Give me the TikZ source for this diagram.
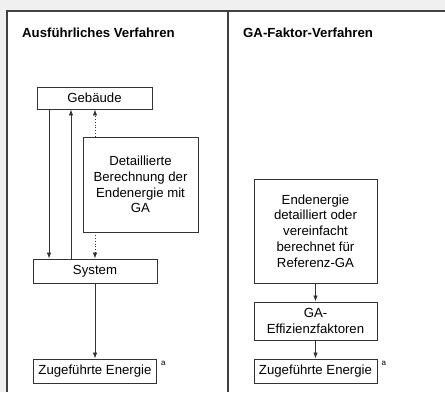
\documentclass[tikz,border=0pt]{standalone}
\usepackage{fontspec}
\setmainfont{Liberation Sans}
\usetikzlibrary{arrows.meta}
\begin{document}
\begin{tikzpicture}[
		x={(1pt,0pt)},
		y={(0pt,-1pt)},
		box/.style={draw=black!80,line width=0.9pt,fill=white,inner sep=0pt,align=center,font=\fontsize{13.2}{15.8}\selectfont},
		head/.style={anchor=base west,inner sep=0pt,font=\fontsize{13.2}{15.8}\selectfont\bfseries},
		fnmark/.style={anchor=north west,inner sep=0pt,font=\fontsize{8}{9}\selectfont},
		flow/.style={-{Latex[length=6pt,width=4.5pt]},draw=black!80,line width=0.8pt},
	]
		\useasboundingbox (0,0) rectangle (445,392);
		\fill[black!6] (0,0) rectangle (445,392);
		\fill[white] (7,11) rectangle (445,392);
		\draw[black!75,line width=1.5pt] (7,392) -- (7,11) -- (445,11);
		\draw[black!75,line width=1.2pt] (228,11) -- (228,392);
		
		\node[head] (titleA) at (22,37) {Ausführliches Verfahren};
		\node[head] (titleB) at (243,37) {GA-Faktor-Verfahren};
		
		% left: detailed method
		\node[box,minimum width=115,minimum height=22] (gebaeude) at (94.5,98) {Gebäude};
		\node[box,minimum width=115,minimum height=95] (detail) at (140.5,184.5) {Detaillierte\\ Berechnung der\\ Endenergie mit\\ GA};
		\node[box,minimum width=124,minimum height=24] (system) at (95,271) {System};
		\node[box,minimum width=123,minimum height=24] (zufuhrA) at (95,371) {Zugeführte Energie};
		\node[fnmark] (markA) at ([xshift=4pt,yshift=-2pt]zufuhrA.north east) {a};
		
		\coordinate (colA) at (49,0);
		\coordinate (colB) at (71,0);
		\coordinate (colC) at (95,0);
		\draw[flow] (gebaeude.south -| colA) -- (system.north -| colA);
		\draw[flow] (system.north -| colB) -- (gebaeude.south -| colB);
		\draw[flow,dotted] (detail.north -| colC) -- (gebaeude.south -| colC);
		\draw[flow,dotted] (detail.south -| colC) -- (system.north -| colC);
		\draw[flow] (system) -- (zufuhrA);
		
		% right: factor method
		\node[box,minimum width=123,minimum height=104] (endenergie) at (315.5,231) {Endenergie\\ detailliert oder\\ vereinfacht\\ berechnet für\\ Referenz-GA};
		\node[box,minimum width=123,minimum height=38] (faktoren) at (315.5,321) {GA-\\ Effizienzfaktoren};
		\node[box,minimum width=123,minimum height=24] (zufuhrB) at (315.5,371) {Zugeführte Energie};
		\node[fnmark] (markB) at ([xshift=4pt,yshift=-2pt]zufuhrB.north east) {a};
		
		\draw[flow] (endenergie) -- (faktoren);
		\draw[flow] (faktoren) -- (zufuhrB);
	\end{tikzpicture}
\end{document}
